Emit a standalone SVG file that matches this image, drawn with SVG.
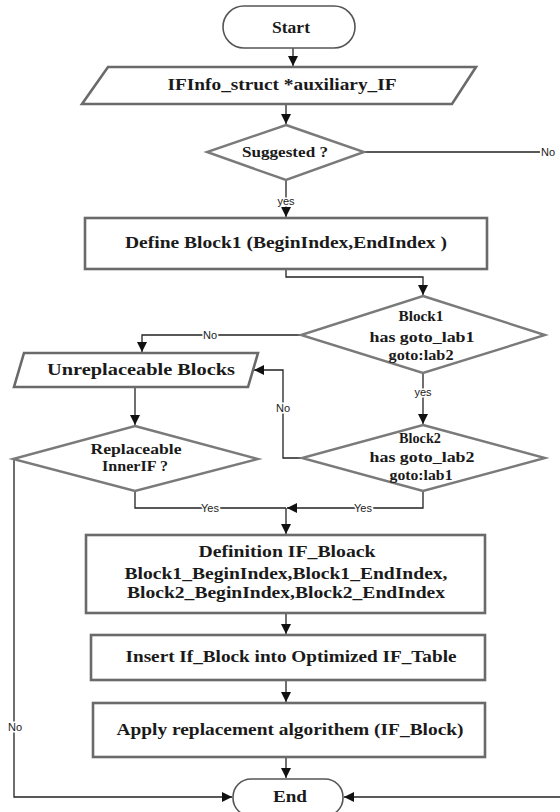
<svg xmlns="http://www.w3.org/2000/svg" width="560" height="812" viewBox="0 0 560 812">
<defs>
<marker id="arr" markerUnits="userSpaceOnUse" markerWidth="11" markerHeight="11" refX="10" refY="5" orient="auto">
<path d="M0,0 L10,5 L0,10 z" fill="#111"/>
</marker>
<style>
.bg{fill:#fff}
.box{fill:#fff;stroke:#6a6a6a;stroke-width:2.6}
.dia{fill:#fff;stroke:#7a7a7a;stroke-width:2.4}
.term{fill:#fff;stroke:#555;stroke-width:1.6}
.t{font-family:"Liberation Serif","Times New Roman",serif;font-weight:bold;fill:#1a1a1a;text-anchor:middle}
.m{font-size:16px}
.d{font-size:15px}
.lbl{font-family:"Liberation Sans",Arial,sans-serif;font-size:11px;fill:#222;text-anchor:middle;stroke:#fff;stroke-width:3;paint-order:stroke}
.c{fill:none;stroke:#222;stroke-width:1.3}
</style>
</defs>
<rect class="bg" x="0" y="0" width="560" height="812"/>
<g id="connectors">
<path class="c" d="M293,48 V66" marker-end="url(#arr)"/>
<path class="c" d="M286,104 V124" marker-end="url(#arr)"/>
<path class="c" d="M286,180 V217" marker-end="url(#arr)"/>
<path class="c" d="M364,152 H540"/>
<path class="c" d="M286,269 V277 H423 V295" marker-end="url(#arr)"/>
<path class="c" d="M301,335 H142 V352" marker-end="url(#arr)"/>
<path class="c" d="M423,373 V424" marker-end="url(#arr)"/>
<path class="c" d="M302,458 H283 V370 H254" marker-end="url(#arr)"/>
<path class="c" d="M135,387 V425" marker-end="url(#arr)"/>
<path class="c" d="M13,459 H14 V797 H232" marker-end="url(#arr)"/>
<path class="c" d="M135,491 V508 H286"/>
<path class="c" d="M423,491 V508 H287" marker-end="url(#arr)"/>
<path class="c" d="M286,508 V534" marker-end="url(#arr)"/>
<path class="c" d="M286,613 V634" marker-end="url(#arr)"/>
<path class="c" d="M286,680 V702" marker-end="url(#arr)"/>
<path class="c" d="M286,757 V778" marker-end="url(#arr)"/>
<path class="c" d="M560,797 H344" marker-end="url(#arr)"/>
<text class="lbl" x="548" y="156">No</text>
<text class="lbl" x="286" y="205">yes</text>
<text class="lbl" x="210" y="339">No</text>
<text class="lbl" x="423" y="396">yes</text>
<text class="lbl" x="283" y="412">No</text>
<text class="lbl" x="210" y="512">Yes</text>
<text class="lbl" x="363" y="512">Yes</text>
<text class="lbl" x="15" y="731">No</text>
</g>
<g id="start">
<rect class="term" x="223" y="6" width="132" height="42" rx="21"/>
<text class="t m" x="291" y="33" textLength="38" lengthAdjust="spacingAndGlyphs">Start</text>
</g>
<g id="auxiliary">
<polygon class="box" points="108,67 476,67 452,104 82,104"/>
<text class="t m" x="282" y="90" textLength="229" lengthAdjust="spacingAndGlyphs">IFInfo_struct *auxiliary_IF</text>
</g>
<g id="suggested">
<polygon class="dia" points="286,125 364,152 286,180 207,152"/>
<text class="t d" x="285" y="157" textLength="86" lengthAdjust="spacingAndGlyphs">Suggested ?</text>
</g>
<g id="define-block1">
<rect class="box" x="85" y="218" width="402" height="51"/>
<text class="t m" x="286" y="248" textLength="322" lengthAdjust="spacingAndGlyphs">Define Block1 (BeginIndex,EndIndex )</text>
</g>
<g id="block1">
<polygon class="dia" points="423,296 545,335 423,373 301,335"/>
<text class="t d" x="421" y="321" textLength="45" lengthAdjust="spacingAndGlyphs">Block1</text>
<text class="t d" x="422" y="342" textLength="105" lengthAdjust="spacingAndGlyphs">has goto_lab1</text>
<text class="t d" x="421" y="360" textLength="65" lengthAdjust="spacingAndGlyphs">goto:lab2</text>
</g>
<g id="unreplaceable">
<polygon class="box" points="24,353 258,353 248,387 14,387"/>
<text class="t m" x="141" y="375" textLength="188" lengthAdjust="spacingAndGlyphs">Unreplaceable Blocks</text>
</g>
<g id="block2">
<polygon class="dia" points="423,425 545,458 423,491 302,458"/>
<text class="t d" x="420" y="443" textLength="42" lengthAdjust="spacingAndGlyphs">Block2</text>
<text class="t d" x="422" y="462" textLength="105" lengthAdjust="spacingAndGlyphs">has goto_lab2</text>
<text class="t d" x="421" y="480" textLength="63" lengthAdjust="spacingAndGlyphs">goto:lab1</text>
</g>
<g id="replaceable">
<polygon class="dia" points="135,426 258,459 135,491 13,459"/>
<text class="t d" x="136" y="454" textLength="91" lengthAdjust="spacingAndGlyphs">Replaceable</text>
<text class="t d" x="135" y="471" textLength="66" lengthAdjust="spacingAndGlyphs">InnerIF ?</text>
</g>
<g id="definition">
<rect class="box" x="86" y="535" width="399" height="78"/>
<text class="t m" x="287" y="557" textLength="177" lengthAdjust="spacingAndGlyphs">Definition IF_Bloack</text>
<text class="t m" x="286" y="579" textLength="323" lengthAdjust="spacingAndGlyphs">Block1_BeginIndex,Block1_EndIndex,</text>
<text class="t m" x="286" y="598" textLength="318" lengthAdjust="spacingAndGlyphs">Block2_BeginIndex,Block2_EndIndex</text>
</g>
<g id="insert">
<rect class="box" x="91" y="635" width="394" height="45"/>
<text class="t m" x="291" y="662" textLength="331" lengthAdjust="spacingAndGlyphs">Insert If_Block into Optimized IF_Table</text>
</g>
<g id="apply">
<rect class="box" x="93" y="703" width="392" height="54"/>
<text class="t m" x="290" y="735" textLength="347" lengthAdjust="spacingAndGlyphs">Apply replacement algorithem (IF_Block)</text>
</g>
<g id="end">
<rect class="term" x="233" y="779" width="110" height="37" rx="18"/>
<text class="t m" x="290" y="802" textLength="34" lengthAdjust="spacingAndGlyphs">End</text>
</g>
</svg>
